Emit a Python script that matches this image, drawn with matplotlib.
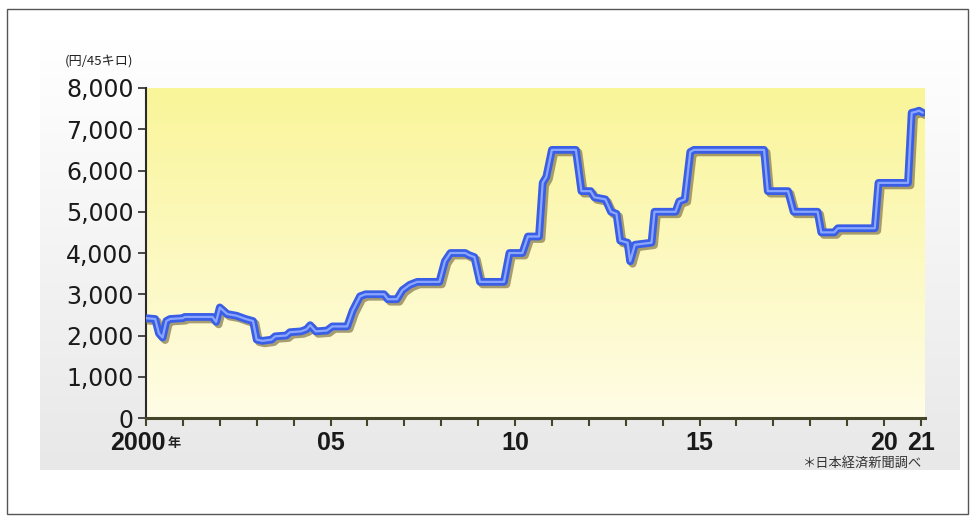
import numpy as np
import matplotlib
matplotlib.use("Agg")
import matplotlib.pyplot as plt
import matplotlib.patheffects as pe
from matplotlib.patches import Rectangle
from matplotlib.transforms import ScaledTranslation

# ---- data ----
years = [2000.00, 2000.25, 2000.35, 2000.45, 2000.55, 2000.65, 2001.00, 2001.05,
         2001.80, 2001.90, 2002.00, 2002.20, 2002.45, 2002.70, 2002.90, 2003.00,
         2003.15, 2003.40, 2003.50, 2003.80, 2003.90, 2004.20, 2004.35, 2004.45,
         2004.60, 2004.90, 2005.05, 2005.45, 2005.60, 2005.80, 2005.95, 2006.45,
         2006.55, 2006.80, 2006.95, 2007.15, 2007.35, 2007.95, 2008.10, 2008.25,
         2008.65, 2008.75, 2008.90, 2009.05, 2009.70, 2009.85, 2010.20, 2010.35,
         2010.65, 2010.75, 2010.85, 2011.00, 2011.65, 2011.80, 2012.05, 2012.15,
         2012.45, 2012.60, 2012.75, 2012.85, 2013.05, 2013.12, 2013.25, 2013.70,
         2013.78, 2014.35, 2014.45, 2014.60, 2014.75, 2014.85, 2016.75, 2016.85,
         2017.40, 2017.55, 2018.20, 2018.30, 2018.65, 2018.75, 2019.75, 2019.85,
         2020.65, 2020.75, 2020.85, 2020.95, 2021.05]
prices = [2420, 2400, 2050, 1950, 2350, 2400, 2420, 2450,
          2450, 2330, 2680, 2520, 2480, 2400, 2350, 1900,
          1870, 1900, 1980, 2000, 2080, 2100, 2150, 2250,
          2100, 2120, 2220, 2220, 2600, 2950, 3000, 3000,
          2880, 2880, 3100, 3230, 3300, 3300, 3800, 4000,
          4000, 3950, 3900, 3300, 3300, 4000, 4000, 4400,
          4400, 5700, 5850, 6500, 6500, 5500, 5500, 5350,
          5300, 5000, 4950, 4300, 4250, 3800, 4200, 4250,
          5000, 5000, 5250, 5300, 6450, 6500, 6500, 5500,
          5500, 5000, 5000, 4500, 4500, 4600, 4600, 5700,
          5700, 7400, 7420, 7450, 7400]

x_ticks = list(range(2000, 2022))
x_label_years = [2000, 2005, 2010, 2015, 2020, 2021]
x_labels = ["2000", "05", "10", "15", "20", "21"]
y_ticks = [0, 1000, 2000, 3000, 4000, 5000, 6000, 7000, 8000]
y_labels = ["0", "1,000", "2,000", "3,000", "4,000", "5,000", "6,000", "7,000", "8,000"]
year_suffix = "年"
unit_label = "(円/45キロ)"
source_note = "＊日本経済新聞調べ"

CJK = ["Noto Sans CJK JP", "DejaVu Sans"]
NARROW = ["Liberation Sans", "DejaVu Sans"]

W, H = 973, 517
fig = plt.figure(figsize=(W / 100, H / 100), dpi=100)
fig.patch.set_facecolor("white")

# background panel + frame
bg = fig.add_axes([0, 0, 1, 1], zorder=-10)
bg.axis("off")
t = np.linspace(0, 1, 256)[:, None]
top = np.array([1.0, 1.0, 1.0])
bot = np.array([0.91, 0.91, 0.91])
rgb = (top[None, None, :] * (1 - t[..., None]) + bot[None, None, :] * t[..., None])
bg.imshow(rgb, extent=[40, 960, 470, 40], aspect="auto", interpolation="bilinear")
bg.add_patch(Rectangle((7, 9), 961, 505, fill=False, ec="#555555", lw=1.0))
bg.set_xlim(0, W)
bg.set_ylim(H, 0)

# main axes
x0, x1, y0, y1 = 146, 925, 88, 418
px_per_year = 36.9
ax = fig.add_axes([x0 / W, 1 - y1 / H, (x1 - x0) / W, (y1 - y0) / H])
ax.patch.set_visible(False)
xmax = 2000 + (x1 - x0) / px_per_year

ty = np.linspace(0, 1, 256)[:, None]
ytop = np.array([0.978, 0.962, 0.600])
ybot = np.array([1.000, 0.990, 0.900])
yrgb = ytop[None, None, :] * (1 - ty[..., None]) + ybot[None, None, :] * ty[..., None]
ax.imshow(yrgb, extent=[2000, xmax, 0, 8000], aspect="auto", zorder=0,
          interpolation="bilinear")

ax.plot(years, prices, color="#3a5fe6", lw=5.6, solid_joinstyle="round",
        solid_capstyle="round", zorder=3,
        path_effects=[pe.SimpleLineShadow(offset=(1.8, -1.8), shadow_color="#6f5f35",
                                          alpha=0.6),
                      pe.Normal()])
ax.plot(years, prices, color="#8aa6ff", lw=1.6, solid_joinstyle="round",
        solid_capstyle="round", zorder=4)

ax.set_xlim(2000, xmax)
ax.set_ylim(0, 8000)

for s in ["top", "right"]:
    ax.spines[s].set_visible(False)
ax.spines["left"].set_color("#2a2a2a")
ax.spines["left"].set_linewidth(1.5)
ax.spines["bottom"].set_color("#45452a")
ax.spines["bottom"].set_linewidth(2.2)

ax.set_xticks(x_ticks)
ax.set_xticklabels([x_labels[x_label_years.index(y)] if y in x_label_years else ""
                    for y in x_ticks])
ax.set_yticks(y_ticks)
ax.set_yticklabels(y_labels)

ax.tick_params(axis="x", direction="out", length=6, width=1.5, color="#45452a",
               pad=3, labelsize=18, labelcolor="#1a1a1a")
ax.tick_params(axis="y", direction="out", length=6, width=1.2, color="#2a2a2a",
               pad=3, labelsize=17, labelcolor="#1a1a1a")
for lab in ax.get_xticklabels():
    lab.set_family(NARROW)
    lab.set_fontweight("bold")
for lab in ax.get_yticklabels():
    lab.set_family(["DejaVu Sans"])

first = ax.xaxis.get_major_ticks()[0].label1
first.set_transform(first.get_transform() + ScaledTranslation(-8 / 100, 0, fig.dpi_scale_trans))

fig.text(168 / W, 1 - 443 / H, year_suffix, ha="left", va="center", fontsize=9.5,
         family=CJK, color="#222222", fontweight="bold")
fig.text(133 / W, 1 - 61 / H, unit_label, ha="right", va="center", fontsize=9.5,
         family=CJK, color="#222222")
fig.text(922 / W, 1 - 463 / H, source_note, ha="right", va="center", fontsize=9.5,
         family=CJK, color="#333333")

fig.savefig("out.png", dpi=100)
